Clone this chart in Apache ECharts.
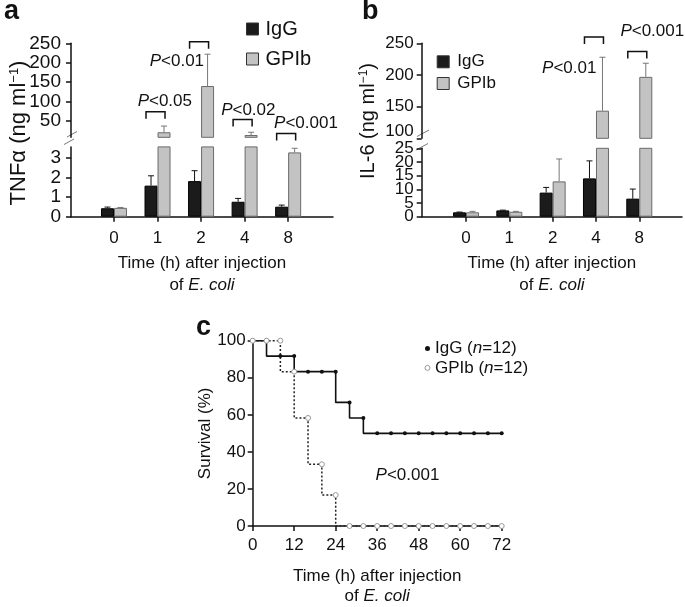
<!DOCTYPE html>
<html><head><meta charset="utf-8">
<script src="https://cdn.jsdelivr.net/npm/echarts@6/dist/echarts.min.js"></script>
<style>html,body{margin:0;padding:0;background:#fff}#c{width:685px;height:607px}</style>
</head><body><div id="c"></div>
<script>
// ---------- data ----------
const timeLabels = ['0', '1', '2', '4', '8'];
const timeIdx = [0, 1, 2, 3, 4];

const tnfIgG     = [0.43, 1.58, 1.81, 0.76, 0.51];
const tnfIgGErr  = [0.06, 0.50, 0.53, 0.17, 0.08];
const tnfGPIb    = [0.45, 21, 140, 14, 3.27];
const tnfGPIbErr = [0.02, 16, 82, 7, 0.21];

const il6IgG     = [1.6, 2.3, 8.8, 14.0, 6.6];
const il6IgGErr  = [0.1, 0.1, 1.9, 6.4, 3.5];
const il6GPIb    = [1.6, 1.8, 12.9, 143.6, 197];
const il6GPIbErr = [0.35, 0.15, 8.2, 84.4, 21.5];

const tnfPIdx   = [1, 2, 3, 4];
const tnfPLevel = [74, 254, 54, 18];
const tnfPText  = ['P<0.05', 'P<0.01', 'P<0.02', 'P<0.001'];
const il6PIdx   = [3, 4];
const il6PLevel = [260, 237];
const il6PText  = ['P<0.01', 'P<0.001'];

const tnfLowTicks = [0, 1, 2, 3];
const tnfUpTicks  = [50, 100, 150, 200, 250];
const il6LowTicks = [0, 5, 10, 15, 20, 25];
const il6LowLabelsA = [0, 10, 20];
const il6LowLabelsB = [5, 15, 25];
const il6UpTicks  = [100, 150, 200, 250];

const survTime = [0, 4, 8, 12, 16, 20, 24, 28, 32, 36, 40, 44, 48, 52, 56, 60, 64, 68, 72];
const survIgG  = [100, 100, 91.7, 91.7, 83.3, 83.3, 83.3, 66.7, 58.3, 50, 50, 50, 50, 50, 50, 50, 50, 50, 50];
const survGPIb = [100, 100, 100, 83.3, 58.3, 33.3, 16.7, 0, 0, 0, 0, 0, 0, 0, 0, 0, 0, 0, 0];

// ---------- style / layout ----------
const FF = '"Liberation Sans", Arial, Helvetica, sans-serif';
const INK = '#111';
const IGG_FILL = '#1b1b1b', GPIB_FILL = '#c3c3c3', GPIB_EDGE = '#6a6a6a';
const tnfLabelOff = [[7.3, -10], [-24.2, 20], [3.7, -9.3], [17.8, -10]];
const il6LabelOff = [[-26.7, 31.6], [13, -20]];

const chart = echarts.init(document.getElementById('c'), null, {renderer: 'canvas'});

const axisLineStyle = {show: true, onZero: false, lineStyle: {color: INK, width: 1.5}};
const tickStyle = (vals) => ({show: true, length: 5, interval: 0, customValues: vals, lineStyle: {color: INK, width: 1.5}});
const pair = (arr) => arr.map((v, i) => [timeIdx[i], v]);
const pairErr = (vals, errs) => vals.map((v, i) => [timeIdx[i], v, errs[i]]);

function errRender(offset, color) {
  return function (params, api) {
    const i = api.value(0), v = api.value(1), e = api.value(2);
    const p0 = api.coord([i, v]);
    const p1 = api.coord([i, v + e]);
    const x = p0[0] + offset;
    return {type: 'group', children: [
      {type: 'line', shape: {x1: x, y1: p0[1], x2: x, y2: p1[1]}, style: {stroke: color, lineWidth: 1}},
      {type: 'line', shape: {x1: x - 3, y1: p1[1], x2: x + 3, y2: p1[1]}, style: {stroke: color, lineWidth: 1}}
    ]};
  };
}
function annRender(texts, offs) {
  return function (params, api) {
    const k = api.value(2);
    const p = api.coord([api.value(0), api.value(1)]);
    const cx = p[0] - 2, y = p[1];
    return {type: 'group', children: [
      {type: 'polyline', shape: {points: [[cx - 9.5, y + 7], [cx - 9.5, y], [cx + 9.5, y], [cx + 9.5, y + 7]]},
       style: {stroke: INK, lineWidth: 1.5, fill: null}},
      {type: 'text', x: p[0] + offs[k][0], y: y + offs[k][1],
       style: {text: texts[k].replace('P', '{i|P}'), fontSize: 17, fontFamily: FF, fill: INK,
               align: 'center', verticalAlign: 'middle',
               rich: {i: {fontStyle: 'italic', fontSize: 17, fontFamily: FF, fill: INK}}}}
    ]};
  };
}

const xTitle = {
  name: 'Time (h) after injection\nof {i|E. coli}',
  nameLocation: 'middle',
  nameTextStyle: {fontSize: 17, fontFamily: FF, color: INK, lineHeight: 22,
                  rich: {i: {fontStyle: 'italic', fontSize: 17, fontFamily: FF, color: INK, lineHeight: 22}}}
};

const A = {left: 71, width: 262, min: -0.987, max: 5.03};
const B = {left: 421.7, width: 260.3, min: -1.023, max: 4.986};
const lbl = (extra) => Object.assign({color: INK, fontFamily: FF, interval: 0, showMinLabel: true, showMaxLabel: true, hideOverlap: false}, extra);

const option = {
  animation: false,
  textStyle: {fontFamily: FF, color: INK},
  grid: [
    {left: A.left, width: A.width, top: 43.3, height: 94},      // a upper
    {left: A.left, width: A.width, top: 146.9, height: 69.8},   // a lower
    {left: B.left, width: B.width, top: 43.3, height: 95},      // b upper
    {left: B.left, width: B.width, top: 148.3, height: 68.4},   // b lower
    {left: 252.7, width: 249, top: 340.7, height: 186}          // c
  ],
  xAxis: [
    {gridIndex: 0, type: 'value', min: A.min, max: A.max, show: false},
    Object.assign({gridIndex: 1, type: 'value', min: A.min, max: A.max, nameGap: 36,
      axisLine: axisLineStyle, axisTick: tickStyle(timeIdx), splitLine: {show: false},
      axisLabel: lbl({customValues: timeIdx, formatter: v => timeLabels[v], fontSize: 17, margin: 13})}, xTitle),
    {gridIndex: 2, type: 'value', min: B.min, max: B.max, show: false},
    Object.assign({gridIndex: 3, type: 'value', min: B.min, max: B.max, nameGap: 36,
      axisLine: axisLineStyle, axisTick: tickStyle(timeIdx), splitLine: {show: false},
      axisLabel: lbl({customValues: timeIdx, formatter: v => timeLabels[v], fontSize: 17, margin: 13})}, xTitle),
    Object.assign({gridIndex: 4, type: 'value', min: 0, max: 72, interval: 12, nameGap: 40,
      axisLine: axisLineStyle, axisTick: {show: true, length: 5, lineStyle: {color: INK, width: 1.5}}, splitLine: {show: false},
      axisLabel: lbl({fontSize: 17, margin: 11})}, xTitle, {
      nameTextStyle: Object.assign({}, xTitle.nameTextStyle, {lineHeight: 20,
        rich: {i: {fontStyle: 'italic', fontSize: 17, fontFamily: FF, color: INK, lineHeight: 20}}})})
  ],
  yAxis: [
    {gridIndex: 0, type: 'value', min: 8, max: 250, axisLine: axisLineStyle, axisTick: tickStyle(tnfUpTicks),
     splitLine: {show: false}, axisLabel: lbl({customValues: tnfUpTicks, fontSize: 19, margin: 10})},
    {gridIndex: 1, type: 'value', min: 0, max: 3.55, axisLine: axisLineStyle, axisTick: tickStyle(tnfLowTicks),
     splitLine: {show: false}, axisLabel: lbl({customValues: tnfLowTicks, fontSize: 19, margin: 10})},
    {gridIndex: 2, type: 'value', min: 100, max: 250, axisLine: axisLineStyle, axisTick: tickStyle(il6UpTicks),
     splitLine: {show: false}, axisLabel: lbl({customValues: il6UpTicks, fontSize: 17, margin: 8,
       formatter: v => v === 100 ? '{up|100}' : String(v),
       rich: {up: {fontSize: 17, fontFamily: FF, color: INK, padding: [0, 0, 13, 0]}}})},
    {gridIndex: 3, type: 'value', min: 0, max: 25, axisLine: axisLineStyle, axisTick: tickStyle(il6LowTicks),
     splitLine: {show: false}, axisLabel: lbl({customValues: il6LowLabelsA, fontSize: 17, margin: 8})},
    {gridIndex: 4, type: 'value', min: 0, max: 100, interval: 20, axisLine: axisLineStyle,
     axisTick: {show: true, length: 5, lineStyle: {color: INK, width: 1.5}}, splitLine: {show: false},
     axisLabel: lbl({fontSize: 17, margin: 7}),
     name: 'Survival (%)', nameLocation: 'middle', nameRotate: 90, nameGap: 25,
     nameTextStyle: {fontSize: 17, fontFamily: FF, color: INK}},
    {gridIndex: 3, type: 'value', min: 0, max: 25, position: 'left', offset: 0,
     axisLine: {show: false, onZero: false}, axisTick: {show: false}, splitLine: {show: false},
     axisLabel: lbl({customValues: il6LowLabelsB, fontSize: 17, margin: 8})}
  ],
  legend: [
    {left: 241, top: 14, orient: 'vertical', selectedMode: false, icon: 'rect', itemWidth: 12, itemHeight: 12, itemGap: 10,
     itemStyle: {borderColor: '#333', borderWidth: 1},
     textStyle: {fontSize: 20, fontFamily: FF, color: INK, padding: [0, 0, 0, 2]}, data: ['IgG', 'GPIb']},
    {left: 431.7, top: 48.3, orient: 'vertical', selectedMode: false, icon: 'rect', itemWidth: 12, itemHeight: 12, itemGap: 4.7,
     itemStyle: {borderColor: '#333', borderWidth: 1},
     textStyle: {fontSize: 17, fontFamily: FF, color: INK, padding: [0, 0, 0, 3]}, data: ['IgG', 'GPIb']},
    {left: 419.5, top: 335, orient: 'vertical', selectedMode: false, itemWidth: 5, itemHeight: 5, itemGap: 2.4,
     formatter: n => n.replace('(n=', '({i|n}='),
     textStyle: {fontSize: 17, fontFamily: FF, color: INK, rich: {i: {fontStyle: 'italic', fontSize: 17, fontFamily: FF, color: INK}}},
     data: [
       {name: 'IgG (n=12)', icon: 'circle', itemStyle: {color: '#111', borderWidth: 0}},
       {name: 'GPIb (n=12)', icon: 'circle', itemStyle: {color: '#fff', borderColor: '#999', borderWidth: 1}}
     ]}
  ],
  graphic: [
    {type: 'text', left: 4, top: -2, style: {text: 'a', fontSize: 27, fontWeight: 'bold', fontFamily: FF, fill: INK}},
    {type: 'text', left: 362, top: -2, style: {text: 'b', fontSize: 27, fontWeight: 'bold', fontFamily: FF, fill: INK}},
    {type: 'text', left: 196, top: 314, style: {text: 'c', fontSize: 27, fontWeight: 'bold', fontFamily: FF, fill: INK}},
    {type: 'text', x: 19, y: 133, rotation: Math.PI / 2,
     style: {text: 'TNFα (ng ml{sup|−1})', fontSize: 22, fontFamily: FF, fill: INK, align: 'center', verticalAlign: 'middle',
             rich: {sup: {fontSize: 13, fontFamily: FF, fill: INK, verticalAlign: 'top'}}}},
    {type: 'text', x: 368, y: 121, rotation: Math.PI / 2,
     style: {text: 'IL-6 (ng ml{sup|−1})', fontSize: 20, fontFamily: FF, fill: INK, align: 'center', verticalAlign: 'middle',
             rich: {sup: {fontSize: 12, fontFamily: FF, fill: INK, verticalAlign: 'top'}}}},
    {type: 'line', shape: {x1: 67, y1: 137, x2: 77, y2: 131.5}, style: {stroke: '#777', lineWidth: 1}},
    {type: 'line', shape: {x1: 64, y1: 144.5, x2: 74, y2: 139}, style: {stroke: '#777', lineWidth: 1}},
    {type: 'line', shape: {x1: 417, y1: 136.5, x2: 429, y2: 130}, style: {stroke: '#777', lineWidth: 1}},
    {type: 'line', shape: {x1: 416, y1: 150, x2: 428, y2: 143.5}, style: {stroke: '#777', lineWidth: 1}}
  ],
  series: []
};

function barPair(xi, yi, igg, gpib) {
  return [
    {name: 'IgG', type: 'bar', xAxisIndex: xi, yAxisIndex: yi, data: pair(igg), barWidth: 13, barGap: '0%', clip: true,
     itemStyle: {color: IGG_FILL, borderColor: '#000', borderWidth: 1}},
    {name: 'GPIb', type: 'bar', xAxisIndex: xi, yAxisIndex: yi, data: pair(gpib), barWidth: 13, barGap: '0%', clip: true,
     itemStyle: {color: GPIB_FILL, borderColor: GPIB_EDGE, borderWidth: 1}}
  ];
}
function errPair(xi, yi, igg, iggE, gpib, gpibE) {
  return [
    {type: 'custom', xAxisIndex: xi, yAxisIndex: yi, clip: true, z: 5, data: pairErr(igg, iggE), renderItem: errRender(-6.5, '#111')},
    {type: 'custom', xAxisIndex: xi, yAxisIndex: yi, clip: true, z: 5, data: pairErr(gpib, gpibE), renderItem: errRender(6.5, '#777')}
  ];
}

option.series.push(
  ...barPair(0, 0, tnfIgG, tnfGPIb), ...barPair(1, 1, tnfIgG, tnfGPIb),
  ...barPair(2, 2, il6IgG, il6GPIb), ...barPair(3, 3, il6IgG, il6GPIb),
  ...errPair(0, 0, tnfIgG, tnfIgGErr, tnfGPIb, tnfGPIbErr), ...errPair(1, 1, tnfIgG, tnfIgGErr, tnfGPIb, tnfGPIbErr),
  ...errPair(2, 2, il6IgG, il6IgGErr, il6GPIb, il6GPIbErr), ...errPair(3, 3, il6IgG, il6IgGErr, il6GPIb, il6GPIbErr),
  {type: 'custom', xAxisIndex: 0, yAxisIndex: 0, clip: false, z: 6,
   data: tnfPIdx.map((x, k) => [x, tnfPLevel[k], k]), renderItem: annRender(tnfPText, tnfLabelOff)},
  {type: 'custom', xAxisIndex: 2, yAxisIndex: 2, clip: false, z: 6,
   data: il6PIdx.map((x, k) => [x, il6PLevel[k], k]), renderItem: annRender(il6PText, il6LabelOff)},
  {name: 'IgG (n=12)', type: 'line', xAxisIndex: 4, yAxisIndex: 4, step: 'start', z: 3,
   data: survTime.map((t, i) => [t, survIgG[i]]), symbol: 'circle', symbolSize: 4, showAllSymbol: true,
   lineStyle: {color: '#111', width: 1.6}, itemStyle: {color: '#111', borderWidth: 0}},
  {name: 'GPIb (n=12)', type: 'line', xAxisIndex: 4, yAxisIndex: 4, step: 'start', z: 4,
   data: survTime.map((t, i) => [t, survGPIb[i]]), symbol: 'circle', symbolSize: 5, showAllSymbol: true,
   lineStyle: {color: '#222', width: 1.5, type: [2, 2]}, itemStyle: {color: '#fff', borderColor: '#999', borderWidth: 1}}
);

// P value text for survival
option.graphic.push({type: 'text', x: 407.5, y: 475,
  style: {text: '{i|P}<0.001', fontSize: 17, fontFamily: FF, fill: INK, align: 'center', verticalAlign: 'middle',
          rich: {i: {fontStyle: 'italic', fontSize: 17, fontFamily: FF, fill: INK}}}});

chart.setOption(option);
</script></body></html>
